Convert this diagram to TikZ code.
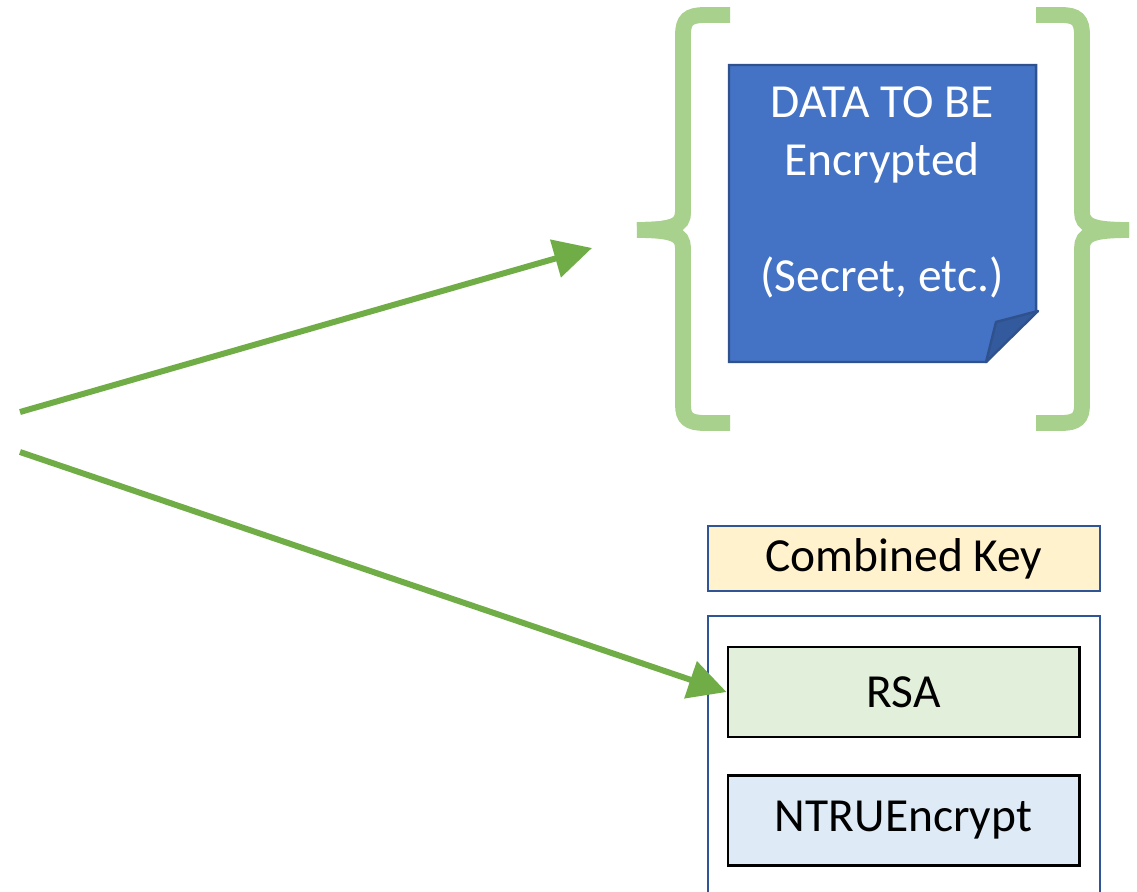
\documentclass[tikz,border=0pt]{standalone}
\usepackage{fontspec}
\setmainfont{Carlito}
\usetikzlibrary{arrows.meta}
\definecolor{arrowgreen}{HTML}{70AD47}
\definecolor{bracegreen}{HTML}{A9D18E}
\definecolor{noteblue}{HTML}{4472C4}
\definecolor{noteedge}{HTML}{2F528F}
\definecolor{foldblue}{HTML}{335A9C}
\definecolor{frameblue}{HTML}{2F5597}
\definecolor{keyfill}{HTML}{FFF2CC}
\definecolor{rsafill}{HTML}{E2EFDA}
\definecolor{ntrufill}{HTML}{DEEBF7}
\tikzset{
  flow/.style={draw=arrowgreen, line width=1.7pt,
    -{Triangle[length=0.38cm,width=0.38cm]}},
  bracket/.style={draw=bracegreen, line width=4.5pt},
  txt/.style={font=\fontsize{13.5}{16.5}\selectfont},
  keybox/.style={draw=frameblue, line width=0.7pt, fill=keyfill,
    minimum width=3.92cm, minimum height=0.65cm, inner sep=0pt, txt},
  algbox/.style={draw=black, line width=0.8pt,
    minimum width=3.51cm, minimum height=0.9cm, inner sep=0pt, txt},
}
\begin{document}
\begin{tikzpicture}[x=0.01cm, y=-0.01cm]
\clip (0,0) rectangle (1137,891);
\fill[white] (0,0) rectangle (1137,891);

% curly brackets around the data note
\draw[bracket] (730,15) -- (705,15) .. controls (688,15) and (683,20) .. (683,35)
  -- (683,212) .. controls (683,226) and (672,230) .. (637,230);
\draw[bracket] (683,212) .. controls (683,226) and (672,230) .. (637,230)
  .. controls (672,230) and (683,234) .. (683,248)
  -- (683,405) .. controls (683,418) and (688,423) .. (705,423) -- (730,423);
\draw[bracket] (1036,15) -- (1061,15) .. controls (1077,15) and (1082,20) .. (1082,35)
  -- (1082,212) .. controls (1082,226) and (1093,230) .. (1129,230);
\draw[bracket] (1129,230) .. controls (1093,230) and (1082,234) .. (1082,248)
  -- (1082,405) .. controls (1082,418) and (1077,423) .. (1061,423) -- (1036,423);

% sticky note with folded corner
\draw[fill=noteblue, draw=noteedge, line width=0.7pt]
  (729,65) -- (1036,65) -- (1036,311) -- (986,362) -- (729,362) -- cycle;
\draw[fill=foldblue, draw=noteedge, line width=0.7pt, line join=round]
  (986,362) -- (996,322) -- (1038,311) -- cycle;
\node[txt, text=white, align=center] (data) at (882,192)
  {DATA TO BE\\Encrypted\\[16.5pt](Secret, etc.)};

% key structure
\node[keybox] (key) at (904,558.5) {Combined Key};
\draw[draw=frameblue, line width=0.7pt] (708,616) rectangle (1100,920);
\node[algbox, fill=rsafill] (rsa) at (903.5,692) {RSA};
\node[algbox, fill=ntrufill] (ntru) at (903.5,820.5) {NTRUEncrypt};

% arrows
\coordinate (s1) at (20,412);
\coordinate (t1) at (592,248);
\coordinate (s2) at (20,452);
\draw[flow] (s1) -- (t1);
\draw[flow] (s2) -- (rsa.west);
\end{tikzpicture}
\end{document}
